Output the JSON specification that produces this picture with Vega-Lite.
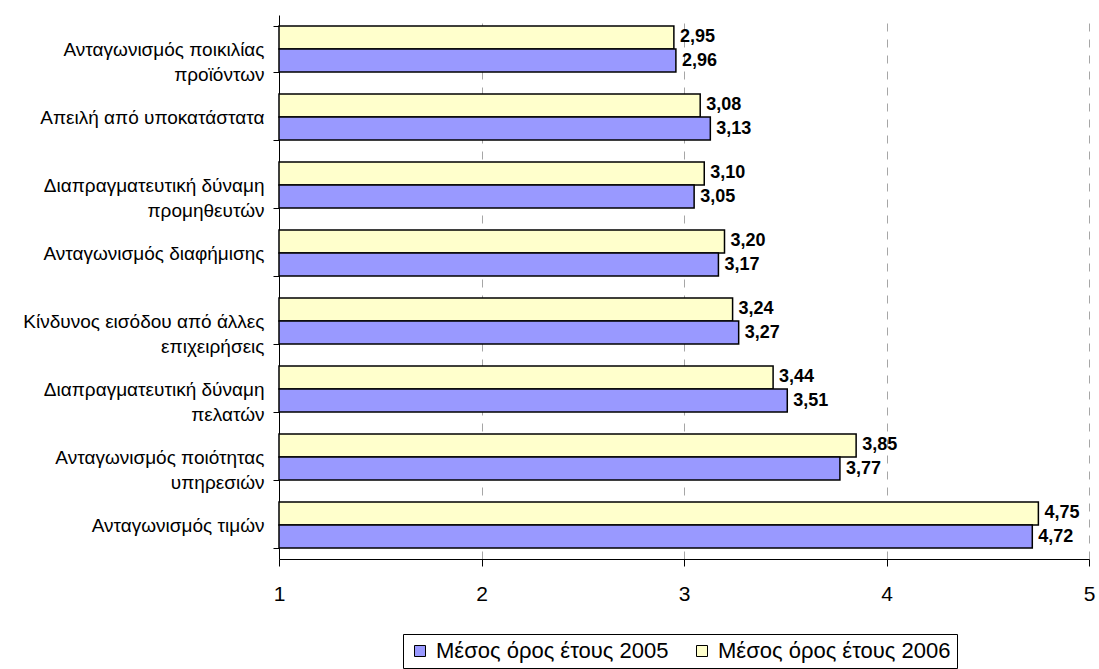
{
  "$schema": "https://vega.github.io/schema/vega-lite/v6.json",
  "width": 810,
  "height": 544,
  "autosize": {"type": "none"},
  "padding": {"left": 279, "top": 15, "right": 10, "bottom": 110},
  "background": "white",
  "config": {
    "font": "Liberation Sans",
    "view": {"stroke": null},
    "locale": {"number": {"decimal": ",", "thousands": ".", "grouping": [3], "currency": ["", " €"]}}
  },
  "data": {
    "values": [
      {"factor": "Ανταγωνισμός ποικιλίας\nπροϊόντων", "year": "Μέσος όρος έτους 2006", "value": 2.95},
      {"factor": "Ανταγωνισμός ποικιλίας\nπροϊόντων", "year": "Μέσος όρος έτους 2005", "value": 2.96},
      {"factor": "Απειλή από υποκατάστατα", "year": "Μέσος όρος έτους 2006", "value": 3.08},
      {"factor": "Απειλή από υποκατάστατα", "year": "Μέσος όρος έτους 2005", "value": 3.13},
      {"factor": "Διαπραγματευτική δύναμη\nπρομηθευτών", "year": "Μέσος όρος έτους 2006", "value": 3.10},
      {"factor": "Διαπραγματευτική δύναμη\nπρομηθευτών", "year": "Μέσος όρος έτους 2005", "value": 3.05},
      {"factor": "Ανταγωνισμός διαφήμισης", "year": "Μέσος όρος έτους 2006", "value": 3.20},
      {"factor": "Ανταγωνισμός διαφήμισης", "year": "Μέσος όρος έτους 2005", "value": 3.17},
      {"factor": "Κίνδυνος εισόδου από άλλες\nεπιχειρήσεις", "year": "Μέσος όρος έτους 2006", "value": 3.24},
      {"factor": "Κίνδυνος εισόδου από άλλες\nεπιχειρήσεις", "year": "Μέσος όρος έτους 2005", "value": 3.27},
      {"factor": "Διαπραγματευτική δύναμη\nπελατών", "year": "Μέσος όρος έτους 2006", "value": 3.44},
      {"factor": "Διαπραγματευτική δύναμη\nπελατών", "year": "Μέσος όρος έτους 2005", "value": 3.51},
      {"factor": "Ανταγωνισμός ποιότητας\nυπηρεσιών", "year": "Μέσος όρος έτους 2006", "value": 3.85},
      {"factor": "Ανταγωνισμός ποιότητας\nυπηρεσιών", "year": "Μέσος όρος έτους 2005", "value": 3.77},
      {"factor": "Ανταγωνισμός τιμών", "year": "Μέσος όρος έτους 2006", "value": 4.75},
      {"factor": "Ανταγωνισμός τιμών", "year": "Μέσος όρος έτους 2005", "value": 4.72}
    ]
  },
  "encoding": {
    "y": {
      "field": "factor",
      "type": "nominal",
      "sort": null,
      "title": null,
      "scale": {"paddingInner": 0.32, "paddingOuter": 0.16},
      "axis": {
        "tickBand": "extent",
        "domainColor": "black",
        "tickColor": "black",
        "tickSize": 6,
        "labelPadding": 9,
        "labelFontSize": 19,
        "labelColor": "black",
        "labelLineHeight": 25,
        "labelLimit": 300,
        "labelExpr": "split(datum.label, '\\n')"
      }
    },
    "yOffset": {
      "field": "year",
      "type": "nominal",
      "sort": ["Μέσος όρος έτους 2006", "Μέσος όρος έτους 2005"]
    }
  },
  "layer": [
    {
      "mark": {"type": "bar", "stroke": "black", "strokeWidth": 1.5},
      "encoding": {
        "x": {
          "field": "value",
          "type": "quantitative",
          "title": null,
          "scale": {"domain": [1, 5], "zero": false, "nice": false},
          "axis": {
            "values": [1, 2, 3, 4, 5],
            "format": "d",
            "labelFlush": false,
            "grid": true,
            "gridDash": [8, 8],
            "gridColor": "#a6a6a6",
            "domainColor": "black",
            "tickColor": "black",
            "tickSize": 7,
            "labelPadding": 17,
            "labelFontSize": 21,
            "labelColor": "black"
          }
        },
        "x2": {"datum": 1},
        "fill": {
          "field": "year",
          "type": "nominal",
          "scale": {
            "domain": ["Μέσος όρος έτους 2005", "Μέσος όρος έτους 2006"],
            "range": ["#9999ff", "#ffffcc"]
          },
          "legend": {
            "title": null,
            "orient": "none",
            "legendX": 124,
            "legendY": 619,
            "direction": "horizontal",
            "symbolType": "square",
            "symbolSize": 121,
            "symbolStrokeColor": "black",
            "symbolStrokeWidth": 1,
            "labelFontSize": 22,
            "labelColor": "black",
            "labelLimit": 300,
            "labelOffset": 5,
            "columnPadding": 22,
            "strokeColor": "black",
            "padding": 6
          }
        }
      }
    },
    {
      "mark": {"type": "text", "align": "left", "baseline": "middle", "dx": 6, "fontSize": 18, "fontWeight": "bold", "color": "black"},
      "encoding": {
        "x": {"field": "value", "type": "quantitative"},
        "text": {"field": "value", "type": "quantitative", "format": ".2f"}
      }
    }
  ]
}
